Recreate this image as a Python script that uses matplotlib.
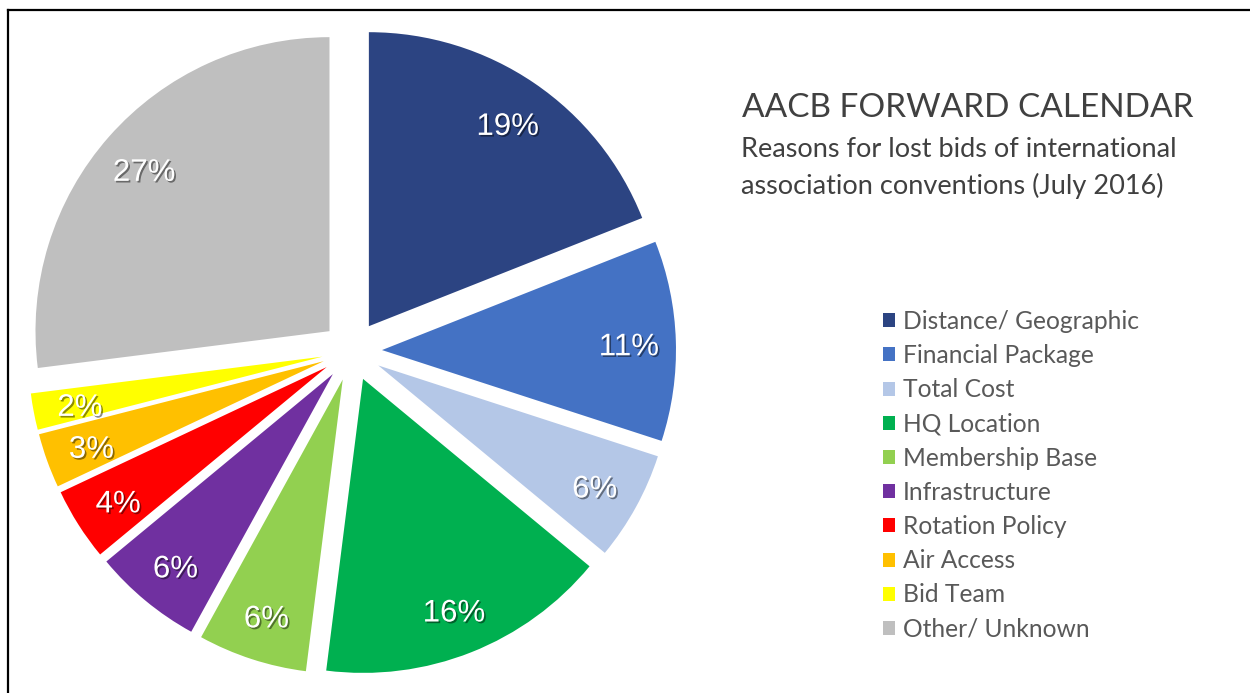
import matplotlib.pyplot as plt
import matplotlib.patheffects as pe
from matplotlib.lines import Line2D

labels = ["Distance/ Geographic", "Financial Package", "Total Cost", "HQ Location",
          "Membership Base", "Infrastructure", "Rotation Policy", "Air Access",
          "Bid Team", "Other/ Unknown"]
values = [19, 11, 6, 16, 6, 6, 4, 3, 2, 27]
colors = ["#2C4482", "#4472C4", "#B4C7E7", "#00B050", "#92D050",
          "#7030A0", "#FF0000", "#FFC000", "#FFFF00", "#BFBFBF"]

W, H = 1250, 693
R = 294.0          # pie radius in pixels
cx, cy = 352, 351  # pie centre, pixels from top-left

fig = plt.figure(figsize=(W / 100, H / 100), dpi=100)
ax = fig.add_axes([0, 0, 1, 1])

shadow = [pe.withSimplePatchShadow(offset=(1.2, -1.2), shadow_rgbFace="black", alpha=0.45)]
wedges, texts, autotexts = ax.pie(
    values, colors=colors, startangle=90, counterclock=False,
    explode=[30 / R] * len(values), autopct="%d%%", pctdistance=0.84,
    textprops=dict(color="white", fontsize=22.5, family="Liberation Sans"),
)
for t in autotexts:
    t.set_path_effects(shadow)
    x, y = t.get_position()
    t.set_position((x, y - 5 / R))

ax.set_xlim(-cx / R, (W - cx) / R)
ax.set_ylim(-(H - cy) / R, cy / R)
ax.axis("off")

fig.text(742 / W, 1 - 117 / H, "AACB FORWARD CALENDAR", fontsize=24,
         family="Lato", color="#404040", va="baseline")
fig.text(741 / W, 1 - 137 / H, "Reasons for lost bids of international\nassociation conventions (July 2016)",
         fontsize=19.5, family="Lato", color="#404040", va="top", linespacing=1.5)

leg = ax.legend(wedges, labels, loc="upper left", bbox_to_anchor=(883 / W, 1 - 310 / H),
                bbox_transform=fig.transFigure, frameon=False, handlelength=0.5,
                handleheight=0.5, handletextpad=0.3, labelspacing=0.455,
                borderpad=0, borderaxespad=0,
                prop=dict(family="Lato", size=17.7))
for t in leg.get_texts():
    t.set_color("#595959")

# frame lines (top and left only visible)
fig.add_artist(Line2D([8 / W, 1], [1 - 10 / H, 1 - 10 / H], color="black", lw=1.6))
fig.add_artist(Line2D([8 / W, 8 / W], [0, 1 - 10 / H], color="black", lw=1.6))

fig.savefig("out.png", dpi=100)
